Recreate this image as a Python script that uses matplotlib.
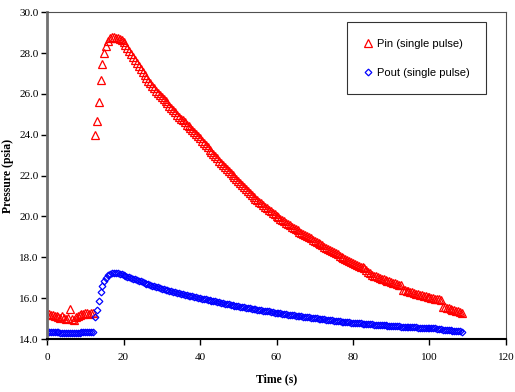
import numpy as np
import matplotlib
matplotlib.use("Agg")
import matplotlib.pyplot as plt
from matplotlib.ticker import FormatStrFormatter

# sampling every 0.5 s, 0 .. 108.5 s
time = np.arange(0, 108.6, 0.5)

# inlet pressure, psia
pin = [15.25, 15.22, 15.20, 15.18, 15.15, 15.12, 15.10, 15.05, 15.15, 15.02,
       15.00, 15.05, 15.47, 15.00, 14.93, 15.10, 15.15, 15.20, 15.22, 15.25,
       15.27, 15.28, 15.25, 15.30, 15.28, 24.00, 24.65, 25.60, 26.70, 27.45,
       28.00, 28.35, 28.60, 28.75, 28.80, 28.78, 28.75, 28.72, 28.68, 28.62,
       28.55,
       28.40, 28.25, 28.10, 27.95, 27.80, 27.65, 27.50, 27.35, 27.20, 27.05,
       26.92, 26.78, 26.65, 26.52, 26.40, 26.28, 26.16, 26.05, 25.95, 25.85,
       25.74, 25.63, 25.53, 25.42, 25.31, 25.20, 25.10, 24.99, 24.89, 24.79,
       24.70, 24.60, 24.50, 24.41, 24.31, 24.22, 24.12, 24.02, 23.92, 23.82,
       23.71, 23.60, 23.49, 23.38, 23.27, 23.16, 23.06, 22.96, 22.84, 22.72,
       22.62, 22.52, 22.42, 22.32, 22.22, 22.12, 22.02, 21.92, 21.82, 21.73,
       21.63, 21.54, 21.44, 21.35, 21.25, 21.15, 21.05, 20.96, 20.88, 20.80,
       20.72, 20.64, 20.56, 20.48, 20.40, 20.33, 20.25, 20.18, 20.11, 20.04,
       19.97, 19.90, 19.83, 19.76, 19.69, 19.62, 19.56, 19.50, 19.44, 19.38,
       19.32, 19.26, 19.20, 19.15, 19.09, 19.04, 18.98, 18.93, 18.87, 18.82,
       18.77, 18.72, 18.65, 18.58, 18.52, 18.47, 18.41, 18.36, 18.30, 18.25,
       18.19, 18.14, 18.09, 18.04, 17.99, 17.94, 17.89, 17.84, 17.79, 17.74,
       17.69, 17.64, 17.60, 17.55, 17.51, 17.46, 17.38, 17.30, 17.22, 17.15,
       17.11, 17.08, 17.04, 17.00, 16.96, 16.93, 16.89, 16.86, 16.83, 16.80,
       16.76, 16.73, 16.70, 16.66, 16.63, 16.40, 16.38, 16.35, 16.33, 16.30,
       16.28, 16.25, 16.23, 16.20, 16.18, 16.15, 16.13, 16.10, 16.08, 16.05,
       16.03, 16.00, 15.98, 15.96, 15.94, 15.92, 15.58, 15.55, 15.52, 15.50,
       15.46, 15.43, 15.40, 15.37, 15.35, 15.32, 15.28]

# outlet pressure, psia
pout = [14.34, 14.35, 14.34, 14.33, 14.34, 14.33, 14.33, 14.32, 14.32, 14.31,
        14.31, 14.30, 14.32, 14.30, 14.29, 14.31, 14.30, 14.32, 14.33, 14.34,
        14.34, 14.35, 14.35, 14.36, 14.35, 15.06, 15.42, 15.86, 16.28, 16.60,
        16.84, 17.00, 17.12, 17.18, 17.21, 17.22, 17.22, 17.21, 17.19, 17.17,
        17.15,
        17.09, 17.06, 17.03, 17.00, 16.96, 16.93, 16.90, 16.86, 16.83, 16.79,
        16.76, 16.72, 16.69, 16.65, 16.62, 16.59, 16.56, 16.53, 16.50, 16.47,
        16.44, 16.42, 16.39, 16.37, 16.34, 16.32, 16.29, 16.27, 16.24, 16.22,
        16.20, 16.18, 16.15, 16.13, 16.11, 16.09, 16.07, 16.05, 16.02, 16.00,
        15.98, 15.96, 15.94, 15.92, 15.90, 15.88, 15.86, 15.84, 15.82, 15.80,
        15.78, 15.76, 15.74, 15.72, 15.70, 15.68, 15.66, 15.64, 15.62, 15.60,
        15.58, 15.57, 15.55, 15.54, 15.52, 15.50, 15.48, 15.47, 15.45, 15.44,
        15.42, 15.41, 15.39, 15.38, 15.36, 15.35, 15.33, 15.32, 15.30, 15.29,
        15.27, 15.26, 15.24, 15.23, 15.21, 15.20, 15.19, 15.18, 15.16, 15.15,
        15.13, 15.12, 15.11, 15.10, 15.08, 15.07, 15.06, 15.05, 15.03, 15.02,
        15.01, 15.00, 14.98, 14.97, 14.96, 14.95, 14.93, 14.92, 14.91, 14.90,
        14.89, 14.88, 14.87, 14.86, 14.85, 14.84, 14.83, 14.82, 14.81, 14.80,
        14.79, 14.78, 14.78, 14.77, 14.76, 14.75, 14.74, 14.73, 14.73, 14.72,
        14.71, 14.70, 14.70, 14.69, 14.68, 14.67, 14.67, 14.66, 14.65, 14.64,
        14.64, 14.63, 14.63, 14.62, 14.61, 14.60, 14.60, 14.59, 14.59, 14.58,
        14.58, 14.57, 14.57, 14.56, 14.56, 14.55, 14.55, 14.54, 14.54, 14.53,
        14.53, 14.52, 14.52, 14.51, 14.51, 14.50, 14.46, 14.44, 14.43, 14.42,
        14.42, 14.41, 14.41, 14.40, 14.39, 14.38, 14.37]

plt.rcParams['font.family'] = ['Liberation Serif', 'DejaVu Serif']

fig = plt.figure(figsize=(5.15, 3.92), dpi=100)
ax = fig.add_axes([0.0913, 0.135, 0.8912, 0.834])

ax.plot(time, pin, linestyle='none', marker='^', markersize=6,
        markerfacecolor='none', markeredgecolor='#ff0000', markeredgewidth=0.9,
        label='Pin (single pulse)')
ax.plot(time, pout, linestyle='none', marker='D', markersize=3.4,
        markerfacecolor='none', markeredgecolor='#0000ff', markeredgewidth=0.9,
        label='Pout (single pulse)')

ax.set_xlim(0, 120)
ax.set_ylim(14, 30)
ax.set_xticks(np.arange(0, 121, 20))
ax.set_yticks(np.arange(14, 30.1, 2))
ax.yaxis.set_major_formatter(FormatStrFormatter('%.1f'))
ax.tick_params(direction='out', length=4, width=1, labelsize=8, pad=2)
ax.tick_params(axis='x', pad=6)

ax.spines['left'].set_color('#707070')
ax.spines['left'].set_linewidth(2)
ax.spines['bottom'].set_linewidth(1.5)
ax.spines['top'].set_color('#505050')
ax.spines['top'].set_linewidth(0.8)
ax.spines['right'].set_color('#505050')
ax.spines['right'].set_linewidth(0.8)

ax.set_xlabel('Time (s)', fontsize=8.5, fontweight='bold', labelpad=8)
ax.set_ylabel('Pressure (psia)', fontsize=8.5, fontweight='bold', labelpad=4)

leg = ax.legend(loc='upper left', bbox_to_anchor=(0.673, 0.944),
                bbox_transform=fig.transFigure, frameon=True, fancybox=False,
                shadow=False, borderpad=1.5, labelspacing=1.7, handlelength=0.8,
                handletextpad=0.4, borderaxespad=0,
                prop={'family': 'Liberation Sans', 'size': 8})
leg.get_frame().set_edgecolor('black')
leg.get_frame().set_linewidth(0.8)

fig.savefig('out.png', dpi=100)
